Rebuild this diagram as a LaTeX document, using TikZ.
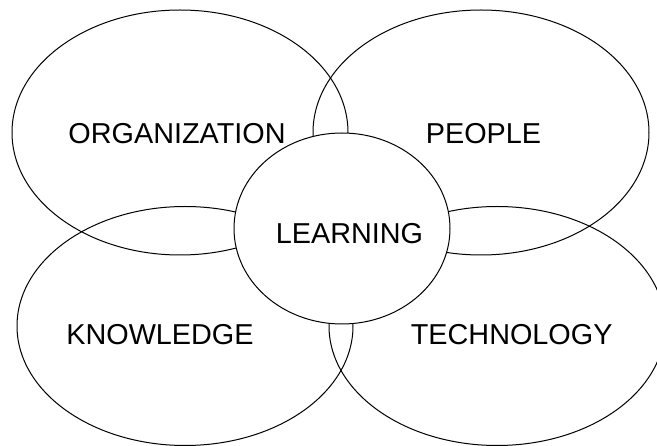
\documentclass[tikz,border=0pt]{standalone}
\usepackage{fontspec}
\setmainfont{Liberation Sans}
\usepackage{tikz}
\usetikzlibrary{shapes.geometric}
\tikzset{ring/.style = {ellipse, draw, line width = 1pt, inner sep = 0pt, minimum width = 336pt},
	word/.style = {anchor = base, font = \fontsize{28.8}{30}\selectfont}}

\begin{document}
\begin{tikzpicture}[x = 1pt, y = -1pt]
			\useasboundingbox (0,0) rectangle (657,446);
			\node (org) at (180,132.5) [ring, minimum height = 245pt] {};
			\node (peo) at (481,132.5) [ring, minimum height = 245pt] {};
			\node (kno) at (185,326) [ring, minimum height = 239pt] {};
			\node (tec) at (497,326) [ring, minimum height = 239pt] {};
			\node (lea) at (342,228.5) [ring, fill = white, minimum width = 216pt, minimum height = 191pt] {};
			\node (torg) at (177,143.3) [word] {ORGANIZATION};
			\node (tpeo) at (483.5,143.3) [word] {PEOPLE};
			\node (tkno) at (160,345) [word] {KNOWLEDGE};
			\node (ttec) at (511.7,345) [word] {TECHNOLOGY};
			\node (tlea) at (349.5,244) [word] {LEARNING};
			\end{tikzpicture}
\end{document}
